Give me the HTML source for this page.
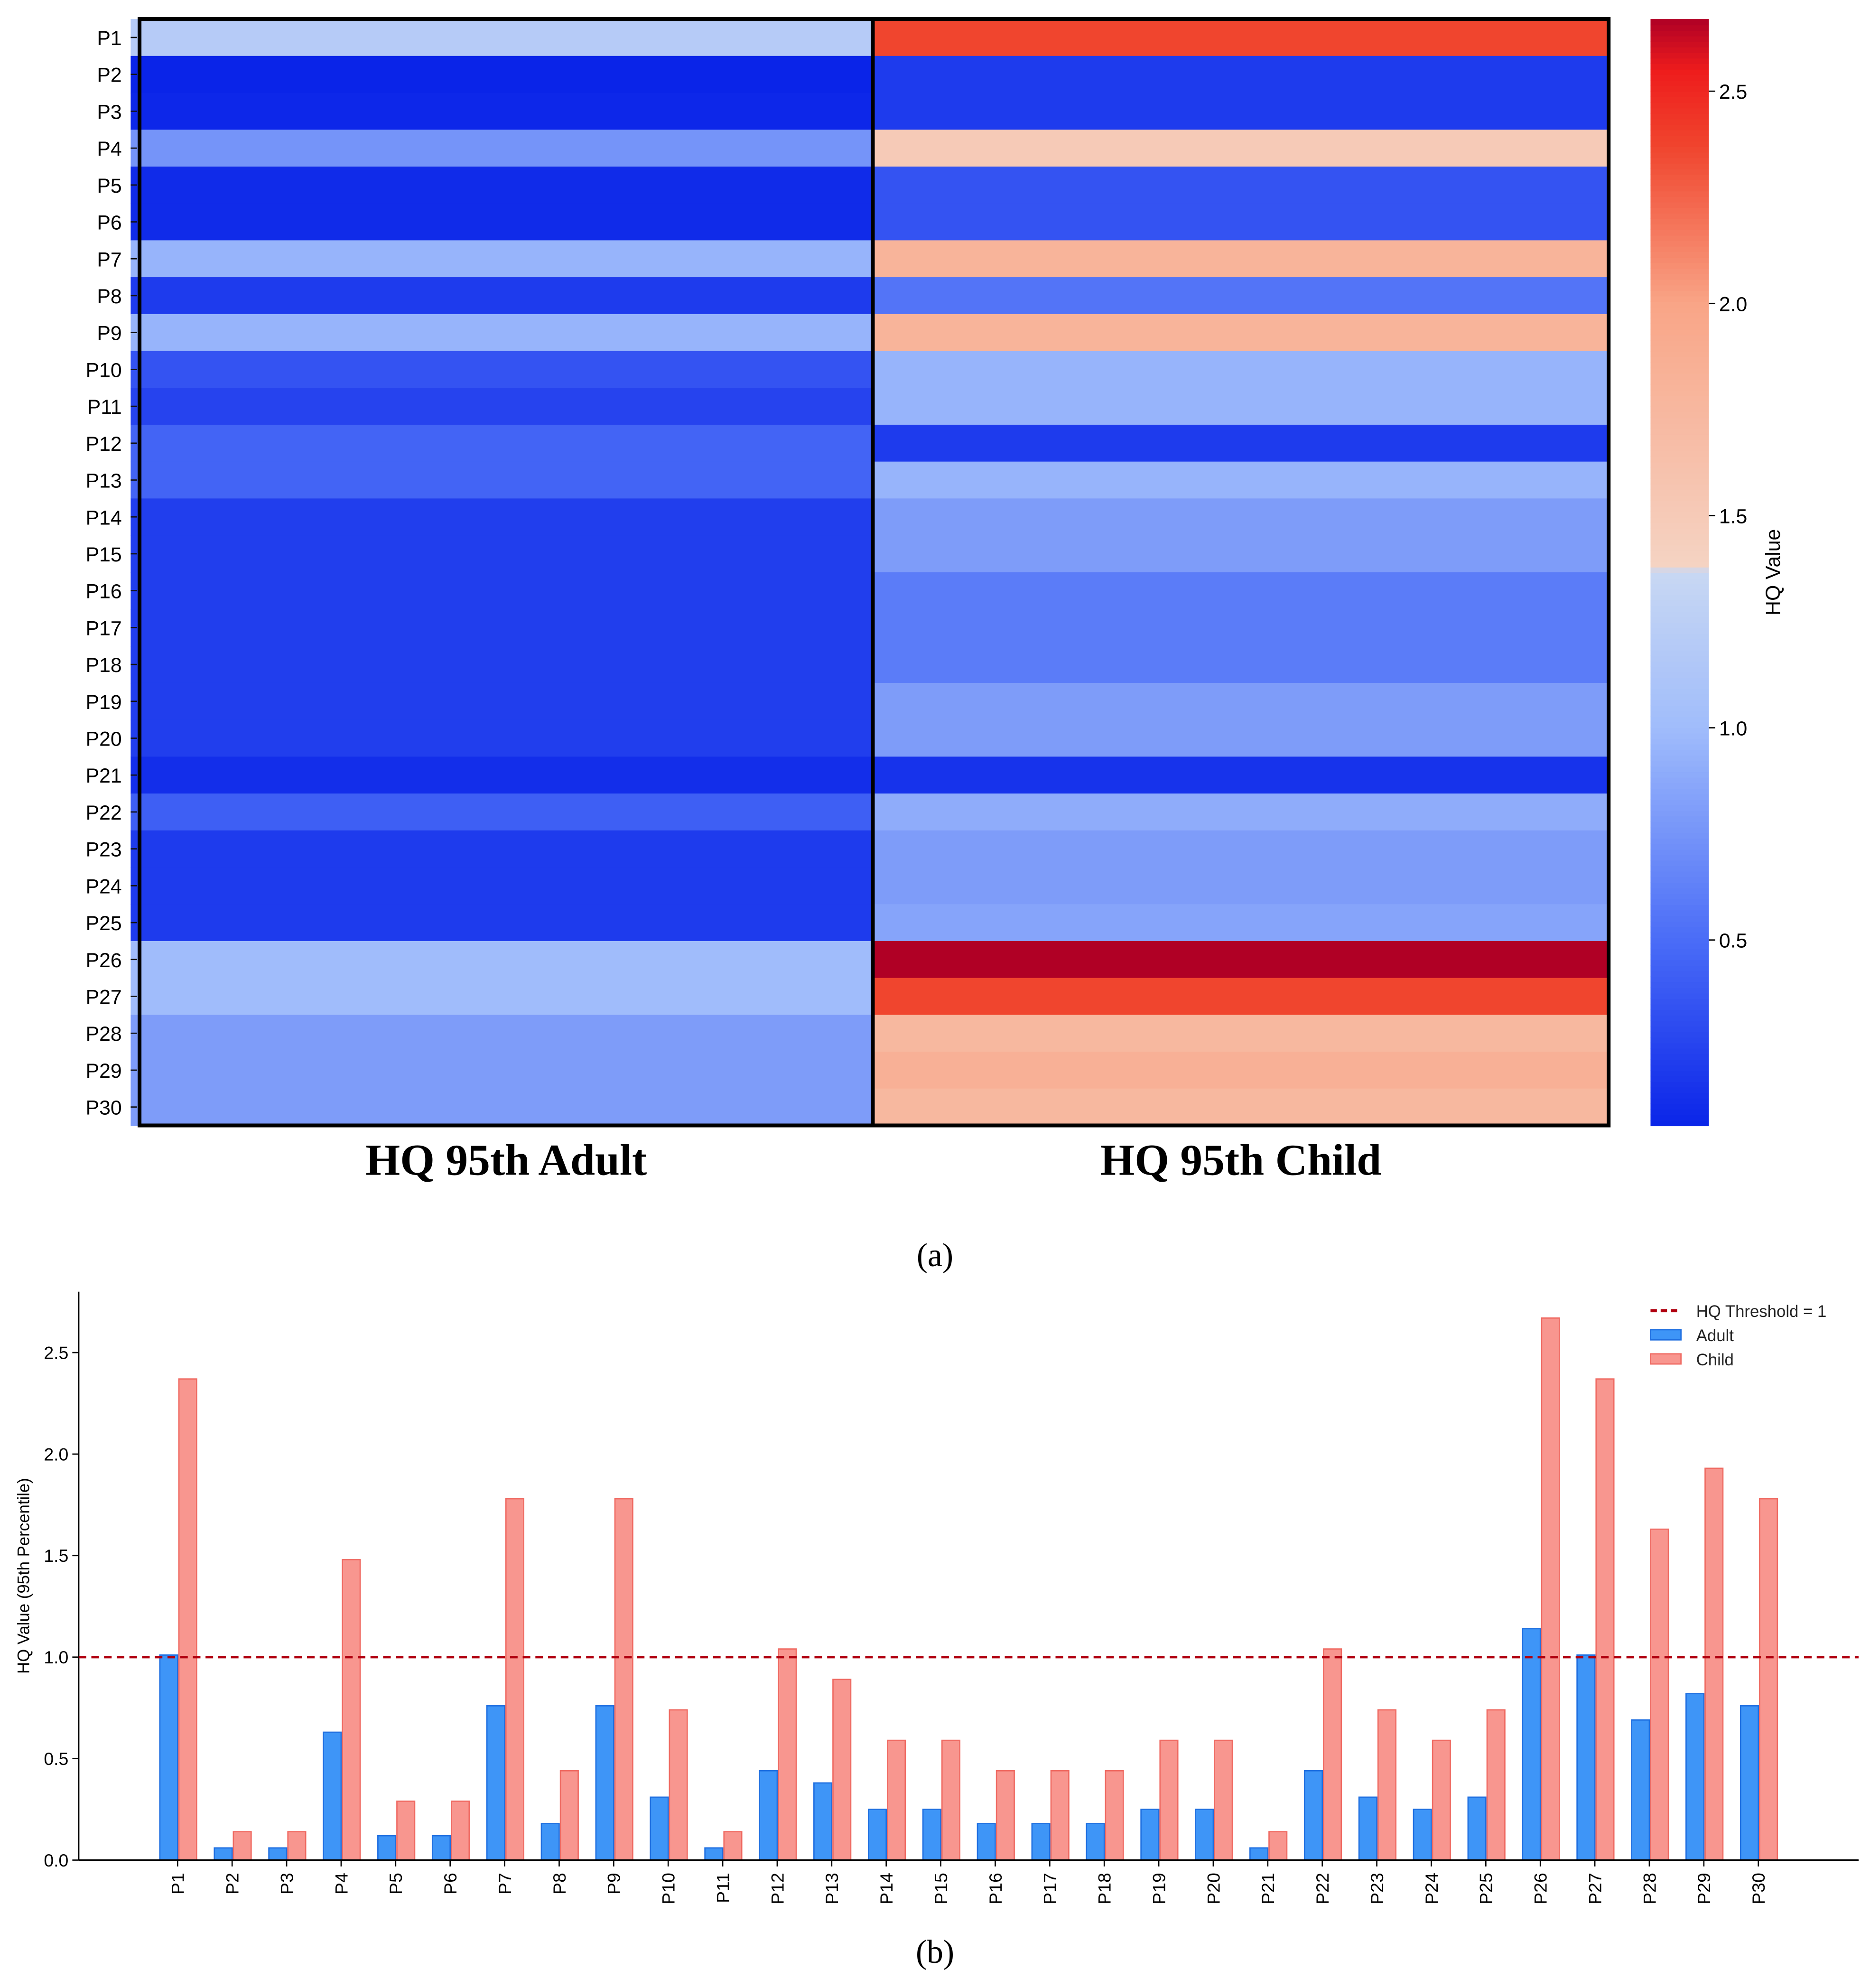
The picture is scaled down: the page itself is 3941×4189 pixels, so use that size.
<!DOCTYPE html>
<html><head><meta charset="utf-8"><style>
html,body{margin:0;padding:0;background:#fff;}
svg{display:block;}
</style></head><body>
<svg id="fig" width="3941" height="4189" viewBox="0 0 1474 1566.8" preserveAspectRatio="none" xmlns="http://www.w3.org/2000/svg"></svg>
<script>
const categories = ["P1","P2","P3","P4","P5","P6","P7","P8","P9","P10","P11","P12","P13","P14","P15","P16","P17","P18","P19","P20","P21","P22","P23","P24","P25","P26","P27","P28","P29","P30"];
const adultValues = [1.01,0.06,0.06,0.63,0.12,0.12,0.76,0.18,0.76,0.31,0.06,0.44,0.38,0.25,0.25,0.18,0.18,0.18,0.25,0.25,0.06,0.44,0.31,0.25,0.31,1.14,1.01,0.69,0.82,0.76];
const childValues = [2.37,0.14,0.14,1.48,0.29,0.29,1.78,0.44,1.78,0.74,0.14,1.04,0.89,0.59,0.59,0.44,0.44,0.44,0.59,0.59,0.14,1.04,0.74,0.59,0.74,2.67,2.37,1.63,1.93,1.78];
const heatAdult = [1.2,0.06,0.08,0.75,0.1,0.1,0.95,0.2,0.95,0.35,0.25,0.45,0.45,0.22,0.22,0.22,0.22,0.22,0.22,0.22,0.12,0.42,0.2,0.2,0.2,1.0,1.0,0.8,0.8,0.8];
const heatChild = [2.37,0.2,0.2,1.5,0.35,0.35,1.8,0.55,1.8,0.95,0.95,0.2,0.95,0.8,0.8,0.6,0.6,0.6,0.8,0.8,0.15,0.9,0.8,0.8,0.85,2.67,2.37,1.75,1.85,1.75];
const colorbarTicks = [0.5,1.0,1.5,2.0,2.5];
const barTicks = [0.0,0.5,1.0,1.5,2.0,2.5];
const threshold = 1;

const NS="http://www.w3.org/2000/svg";
const svg=document.getElementById('fig');
function mk(tag,attrs,parent){const e=document.createElementNS(NS,tag);for(const k in attrs)e.setAttribute(k,attrs[k]);(parent||svg).appendChild(e);return e;}
function txt(s,attrs,parent){const e=mk('text',attrs,parent);e.textContent=s;return e;}

const stops=[[0.06,[10,36,232]],[0.5,[74,108,247]],[1.0,[160,188,251]],[1.37,[200,216,243]],[1.38,[245,211,195]],[2.0,[249,165,135]],[2.37,[240,69,46]],[2.55,[238,28,28]],[2.67,[176,0,37]]];
function cmap(v){
  if(v<=stops[0][0])return 'rgb('+stops[0][1]+')';
  for(let i=1;i<stops.length;i++){if(v<=stops[i][0]){const a=stops[i-1],b=stops[i];const t=(v-a[0])/(b[0]-a[0]);
    return 'rgb('+a[1].map((c,j)=>Math.round(c+(b[1][j]-c)*t)).join(',')+')';}}
  return 'rgb('+stops[stops.length-1][1]+')';
}

// ---- heatmap (a)
const hmTop=15,hmBot=887,hmL=110,hmM=688,hmR=1268;
const rowH=(hmBot-hmTop)/categories.length;
const hm=mk('g',{});


categories.forEach((c,i)=>{
  const y=hmTop+i*rowH;
  const a=mk('rect',{x:hmL,y:y,width:hmM-hmL,height:rowH+0.5,fill:cmap(heatAdult[i])},hm);
  
  
  const ch=mk('rect',{x:hmM,y:y,width:hmR-hmM,height:rowH+0.5,fill:cmap(heatChild[i])},hm);
  
  
  const s=mk('rect',{x:103,y:y,width:6,height:rowH+0.5,fill:cmap(heatAdult[i])},hm);
  
  
  mk('line',{x1:103,x2:108,y1:y+rowH/2,y2:y+rowH/2,stroke:'#111','stroke-width':1},hm);
  const l=txt(c,{x:96,y:y+rowH/2+6,'text-anchor':'end','font-family':'Liberation Sans, sans-serif','font-size':16,fill:'#000'},hm);
  
  
});
mk('rect',{x:hmL,y:hmTop,width:hmM-hmL,height:hmBot-hmTop,fill:'none',stroke:'#000','stroke-width':3},hm);
mk('rect',{x:hmM,y:hmTop,width:hmR-hmM,height:hmBot-hmTop,fill:'none',stroke:'#000','stroke-width':3},hm);
const t1=txt('HQ 95th Adult',{x:399,y:926,'text-anchor':'middle','font-family':'Liberation Serif, serif','font-weight':'bold','font-size':35});

const t2=txt('HQ 95th Child',{x:978,y:926,'text-anchor':'middle','font-family':'Liberation Serif, serif','font-weight':'bold','font-size':35});


// colorbar
const cbL=1301,cbW=46,cbTop=15,cbBot=887,cbMin=0.063,cbMax=2.67;
const cbY=v=>cbBot-(v-cbMin)/(cbMax-cbMin)*(cbBot-cbTop);
const cb=mk('g',{});


for(let k=0;k<200;k++){const v0=cbMin+(cbMax-cbMin)*k/200,v1=cbMin+(cbMax-cbMin)*(k+1)/200;
  mk('rect',{x:cbL,y:cbY(v1),width:cbW,height:cbY(v0)-cbY(v1)+0.6,fill:cmap((v0+v1)/2)},cb);}
colorbarTicks.forEach(v=>{const y=cbY(v);
  mk('line',{x1:cbL+cbW,x2:cbL+cbW+5,y1:y,y2:y,stroke:'#000'},cb);
  const t=txt(v.toFixed(1),{x:cbL+cbW+8,y:y+6,'font-family':'Liberation Sans, sans-serif','font-size':16},cb);
  
});
const cbt=txt('HQ Value',{x:0,y:0,transform:'translate(1403,451) rotate(-90)','text-anchor':'middle','font-family':'Liberation Sans, sans-serif','font-size':16});


const la=txt('(a)',{x:737,y:998,'text-anchor':'middle','font-family':'Liberation Serif, serif','font-size':26});


// ---- bar chart (b)
const axL=62,axR=1465,axTop=1018,axBot=1466,pxPerUnit=160;
const yS=v=>axBot-v*pxPerUnit;
const x0=140,dx=(1386-140)/29,bw=14;
const xS=i=>x0+i*dx;
const bc=mk('g',{});


barTicks.forEach(v=>{const y=yS(v);
  mk('line',{x1:axL-5,x2:axL,y1:y,y2:y,stroke:'#000'},bc);
  const t=txt(v.toFixed(1),{x:axL-8,y:y+5,'text-anchor':'end','font-family':'Liberation Sans, sans-serif','font-size':14},bc);
  
});
categories.forEach((c,i)=>{
  const x=xS(i);
  const a=mk('rect',{x:x-bw,y:yS(adultValues[i]),width:bw,height:adultValues[i]*pxPerUnit,fill:'#3e95f7',stroke:'#1f6fe0','stroke-width':1},bc);
  
  const ch=mk('rect',{x:x+1,y:yS(childValues[i]),width:bw,height:childValues[i]*pxPerUnit,fill:'#f8968f',stroke:'#ef6a62','stroke-width':1},bc);
  
  mk('line',{x1:x,x2:x,y1:axBot,y2:axBot+5,stroke:'#000'},bc);
  const t=txt(c,{x:0,y:0,transform:'translate('+(x+5)+','+(axBot+10)+') rotate(-90)','text-anchor':'end','font-family':'Liberation Sans, sans-serif','font-size':14},bc);
  
});
mk('line',{x1:axL,x2:axL,y1:axTop,y2:axBot,stroke:'#000','stroke-width':1.2},bc);
mk('line',{x1:axL,x2:axR,y1:axBot,y2:axBot,stroke:'#000','stroke-width':1.2},bc);
const th=mk('line',{x1:axL,x2:axR,y1:yS(threshold),y2:yS(threshold),stroke:'#b0000f','stroke-width':2,'stroke-dasharray':'6,4'},bc);

const yt=txt('HQ Value (95th Percentile)',{x:0,y:0,transform:'translate(23,1242) rotate(-90)','text-anchor':'middle','font-family':'Liberation Sans, sans-serif','font-size':13},bc);


const lg=mk('g',{});


const e1=mk('line',{x1:1301,x2:1325,y1:1033,y2:1033,stroke:'#b0000f','stroke-width':2.5,'stroke-dasharray':'5,3'},lg);

txt('HQ Threshold = 1',{x:1337,y:1038,'font-family':'Liberation Sans, sans-serif','font-size':13,fill:'#222'},lg);
const e2=mk('rect',{x:1301,y:1048,width:24,height:8,fill:'#3e95f7',stroke:'#1f6fe0'},lg);

txt('Adult',{x:1337,y:1057,'font-family':'Liberation Sans, sans-serif','font-size':13,fill:'#222'},lg);
const e3=mk('rect',{x:1301,y:1067,width:24,height:8,fill:'#f8968f',stroke:'#ef6a62'},lg);

txt('Child',{x:1337,y:1076,'font-family':'Liberation Sans, sans-serif','font-size':13,fill:'#222'},lg);

const lb=txt('(b)',{x:737,y:1547,'text-anchor':'middle','font-family':'Liberation Serif, serif','font-size':26});

</script>
</body></html>
